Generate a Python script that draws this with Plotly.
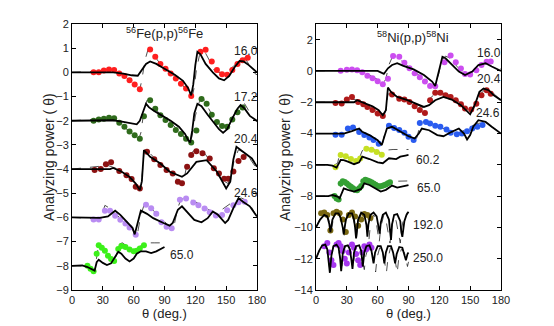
import plotly.graph_objects as go

# ---------------- Left panel: 56Fe(p,p)56Fe (values already include vertical offsets) ----------
fe16_x = [21,26,31,36,41,46,51,56,61,66,76,81,86,91,96,101,106,111,116,125,130,136,141,146,151,156,161,166,171]
fe16_y = [0,0,0.08,0.12,0.1,-0.05,-0.15,-0.33,-0.5,-0.7,0.95,0.65,0.35,0.15,-0.05,-0.25,-0.47,-0.67,-0.98,0.85,0.93,0.45,0.1,-0.08,-0.1,0.1,0.35,0.5,0.6]
fe16_sx = [0,40,50,58,64,68,72,76,82,90,100,108,113,116,118,120,122,125,130,137,143,148,153,158,163,167,172,180]
fe16_sy = [0,0,-0.05,-0.12,-0.14,0.1,0.35,0.45,0.35,0.15,-0.1,-0.35,-0.65,-0.95,-0.5,0.3,0.85,0.75,0.35,0.0,-0.25,-0.33,-0.15,0.2,0.47,0.45,0.3,0.0]
fe16_dx = [0,30,40,48,55,62,66,68,71,74,79,85,95,105,113,117,119,121,124,128,133,138,143,150,157,163,168,173,178,180]
fe16_dy = [0,0.05,0.1,0,-0.3,-0.55,-0.7,-0.3,0.5,0.95,0.75,0.4,0.05,-0.4,-0.8,-1.0,-0.6,0.1,0.7,0.95,0.55,0.1,0.0,0.0,0.25,0.5,0.6,0.3,-0.05,-0.1]

fe172_x = [21,26,31,36,41,46,51,56,61,66,70,76,81,86,91,96,101,106,111,116,121,126,131,136,141,146,151,156,161,166]
fe172_y = [-2,-1.95,-1.92,-1.88,-1.9,-2.08,-2.25,-2.45,-2.6,-2.75,-1.82,-1.15,-1.5,-1.77,-1.97,-2.18,-2.38,-2.55,-2.75,-2.9,-2.4,-1.1,-1.3,-1.75,-2.05,-2.22,-2.25,-1.95,-1.65,-1.45]
fe172_sx = [0,40,50,58,63,66,69,72,75,80,88,96,104,110,113,115,117,119,122,126,132,138,143,147,151,156,161,164,168,173,180]
fe172_sy = [-2,-1.98,-2.05,-2.12,-2.15,-2.0,-1.65,-1.3,-1.45,-1.6,-1.8,-2.0,-2.25,-2.55,-2.8,-2.9,-2.4,-1.7,-1.3,-1.4,-1.75,-2.1,-2.35,-2.5,-2.35,-1.9,-1.5,-1.35,-1.5,-1.8,-2.0]
fe172_dx = [0,35,42,50,58,65,67,70,73,78,85,95,105,112,115,117,120,124,128,133,138,145,150,157,163,168,172,177,180]
fe172_dy = [-2,-1.92,-1.95,-2.25,-2.5,-2.75,-2.5,-1.6,-1.15,-1.35,-1.7,-2.05,-2.45,-2.85,-2.95,-2.6,-1.8,-1.2,-1.1,-1.5,-1.9,-2.2,-2.2,-1.8,-1.45,-1.3,-1.6,-1.95,-2.05]

fe204_x = [22,28,33,38,46,53,58,62,66,73,80,86,92,98,103,107,112,116,121,127,134,138,143,148,152,157,162,167]
fe204_y = [-4.04,-4.0,-3.8,-3.72,-4.08,-4.25,-4.41,-4.73,-4.8,-3.28,-3.59,-3.83,-4.04,-4.18,-4.52,-4.59,-3.9,-3.42,-3.26,-3.35,-3.56,-3.97,-4.18,-4.4,-4.4,-4.1,-3.67,-3.5]
fe204_sx = [0,37,40,48,56,62,66,68,70,72,76,86,95,107,112,121,131,141,147,150,154,157,160,166,175,180]
fe204_sy = [-4,-4.0,-3.95,-4.1,-4.32,-4.6,-4.87,-4.5,-3.21,-3.3,-3.49,-3.77,-4.11,-4.32,-4.18,-3.7,-3.63,-4.11,-4.6,-4.8,-4.52,-3.6,-3.08,-3.28,-3.56,-3.9]
fe204_dx = [0,35,45,55,63,66,68,70,72,78,88,98,105,108,110,113,118,123,130,137,143,148,152,155,158,162,167,172,178,180]
fe204_dy = [-4,-3.85,-4.0,-4.35,-4.7,-4.85,-4.4,-3.3,-3.15,-3.45,-3.85,-4.2,-4.55,-4.6,-4.2,-3.6,-3.25,-3.2,-3.4,-3.85,-4.25,-4.5,-4.6,-4.2,-3.6,-3.2,-3.3,-3.5,-3.85,-4.0]

fe246_x = [21,26,32,37,42,47,52,56,62,72,77,82,87,92,97,105,111,118,123,129,134,140,146,151,157,162,168]
fe246_y = [-6.08,-6.08,-5.72,-5.72,-5.93,-6.1,-6.25,-6.42,-6.72,-5.47,-5.62,-5.85,-6.2,-6.38,-6.45,-5.27,-5.22,-5.38,-5.5,-5.63,-5.78,-5.92,-5.9,-5.7,-5.5,-5.37,-5.35]
fe246_sx = [0,17,21,27,35,42,47,53,59,61,64,67,73,79,89,95,98,103,107,113,119,126,132,137,142,149,152,157,162,166,173,180]
fe246_sy = [-6,-6.0,-6.0,-6.02,-5.96,-5.72,-5.89,-6.17,-6.44,-6.7,-6.2,-5.72,-5.85,-6.03,-6.23,-6.34,-6.23,-5.68,-5.54,-5.82,-6.1,-6.2,-6.03,-5.75,-5.89,-6.23,-6.1,-5.61,-5.2,-5.34,-5.54,-5.96]
fe246_dx = [0,25,29,32,36,42,50,58,62,64,67,70,74,80,88,95,98,100,103,106,112,120,128,135,140,145,150,155,160,165,170,175,180]
fe246_dy = [-6,-6.05,-5.9,-5.5,-5.6,-5.85,-6.15,-6.45,-6.75,-6.6,-5.9,-5.5,-5.5,-5.75,-6.1,-6.4,-6.5,-6.2,-5.6,-5.25,-5.2,-5.35,-5.55,-5.75,-5.85,-5.7,-5.55,-5.4,-5.25,-5.2,-5.3,-5.6,-6.0]

fe65_x = [15,18,21,24,26,29,32,35,38,41,45,48,52,56,60,63,66,70]
fe65_y = [-8.0,-8.12,-8.22,-7.5,-7.15,-7.25,-7.38,-7.58,-7.72,-7.8,-7.3,-7.18,-7.22,-7.33,-7.4,-7.38,-7.28,-7.15]
fe65_sx = [0,10,15,20,22,24,26,30,34,38,42,45,48,52,56,60,63,67,72,77,82,86,90]
fe65_sy = [-8,-7.98,-8.05,-8.15,-8.2,-7.85,-7.75,-7.88,-7.97,-7.9,-7.6,-7.42,-7.5,-7.7,-7.82,-7.7,-7.5,-7.4,-7.4,-7.47,-7.4,-7.3,-7.22]
fe65_dx = [0,15,22,24,26,30,36,40,43,46,49,54,58,62,66,70,75,80,85,90]
fe65_dy = [-8,-8.0,-8.2,-7.6,-7.1,-7.3,-7.6,-7.75,-7.6,-7.1,-7.05,-7.2,-7.35,-7.35,-7.2,-7.1,-7.05,-7.05,-7.05,-7.05]

# ---------------- Right panel: 58Ni(p,p)58Ni ----------
ni16_x = [24,30,35,40,45,50,55,60,65,70,75,81,86,91,96,101,106,111,116,125,131,136,141,145,150,156,161,166,170]
ni16_y = [0.02,0.08,0.1,0.05,-0.08,-0.3,-0.47,-0.66,-0.85,-0.5,0.95,0.9,0.53,0.17,-0.15,-0.4,-0.68,-0.96,-0.98,0.55,0.98,0.55,0.15,-0.2,-0.22,0.05,0.38,0.58,0.6]
ni16_sx = [0,60,66,70,74,79,85,95,105,113,116,119,123,126,131,139,145,152,158,165,171,180]
ni16_sy = [0,0,-0.19,0.17,0.38,0.49,0.32,0.1,-0.26,-0.68,-0.96,-0.15,0.91,0.81,0.49,-0.04,-0.26,-0.04,0.38,0.49,0.28,0]
ni16_dx = [0,40,50,60,66,68,71,74,78,84,92,100,108,114,117,119,122,126,131,137,143,148,153,158,164,169,174,180]
ni16_dy = [0,0.05,-0.2,-0.55,-0.75,-0.5,0.4,0.85,0.9,0.6,0.15,-0.3,-0.7,-0.95,-1.0,-0.3,0.6,0.95,0.8,0.3,-0.1,-0.2,-0.05,0.25,0.5,0.6,0.4,0.1]

ni204_x = [19,25,30,35,41,46,50,55,60,65,74,81,86,91,96,101,106,111,116,121,126,131,136,141,145,151,156,161,166,170]
ni204_y = [-2.05,-2.08,-1.83,-1.66,-1.98,-2.13,-2.3,-2.5,-2.72,-2.88,-1.5,-1.77,-1.83,-1.98,-2.25,-2.5,-2.68,-1.87,-1.4,-1.4,-1.55,-1.66,-1.87,-2.13,-2.4,-2.47,-2.09,-1.55,-1.23,-1.45]
ni204_sx = [0,37,40,47,55,61,65,68,70,73,79,89,98,105,110,116,124,132,141,147,150,155,159,163,168,173,180]
ni204_sy = [-2,-2.0,-1.87,-2.04,-2.26,-2.51,-2.83,-2.51,-1.06,-1.34,-1.66,-1.87,-2.09,-2.3,-2.19,-1.87,-1.66,-1.83,-2.19,-2.62,-2.77,-2.09,-1.34,-1.13,-1.23,-1.55,-1.87]
ni204_dx = [0,25,33,40,50,60,66,68,70,73,80,90,100,106,108,111,116,122,130,138,145,150,153,156,160,164,169,174,180]
ni204_dy = [-2,-2.0,-1.8,-1.85,-2.2,-2.6,-2.9,-2.5,-1.5,-1.35,-1.6,-1.9,-2.2,-2.4,-2.3,-1.75,-1.45,-1.4,-1.55,-1.9,-2.3,-2.6,-2.5,-2.0,-1.5,-1.2,-1.25,-1.5,-1.9]

ni246_x = [19,25,31,36,42,47,52,56,61,71,76,81,86,90,95,101,107,111,116,121,127,131,137,142,147,152,157,162]
ni246_y = [-4.08,-4.08,-3.68,-3.62,-3.9,-4.1,-4.25,-4.42,-4.65,-3.5,-3.65,-3.78,-3.95,-4.2,-4.42,-3.32,-3.26,-3.36,-3.5,-3.57,-3.75,-3.95,-4.05,-4.0,-3.85,-3.68,-3.57,-3.45]
ni246_sx = [0,27,35,42,45,52,60,64,67,69,74,82,90,96,100,103,110,118,124,132,139,144,147,150,153,158,165,171,180]
ni246_sy = [-4,-4.0,-3.85,-3.68,-3.89,-4.1,-4.43,-4.74,-4.1,-3.68,-3.57,-3.89,-4.17,-4.32,-4.0,-3.68,-3.79,-4.1,-4.17,-3.89,-3.68,-4.0,-4.38,-4.1,-3.57,-3.15,-3.26,-3.57,-4.0]
ni246_dx = [0,25,32,38,45,52,58,63,65,67,70,75,82,90,96,98,101,104,110,118,125,132,138,143,148,153,158,163,168,174,180]
ni246_dy = [-4,-4.0,-3.7,-3.65,-3.9,-4.2,-4.45,-4.7,-4.6,-3.9,-3.45,-3.55,-3.8,-4.2,-4.45,-4.3,-3.5,-3.25,-3.3,-3.5,-3.7,-3.9,-4.0,-3.85,-3.6,-3.45,-3.35,-3.3,-3.45,-3.7,-4.0]

ni602_x = [19,24,29,34,39,43,49,54,59,64]
ni602_y = [-6.15,-5.38,-5.45,-5.62,-5.75,-5.6,-4.97,-5.03,-5.18,-5.35]
ni602_sx = [0,11,16,20,24,27,31,37,42,45,52,60,65,71,78,82,87,90]
ni602_sy = [-6,-6.0,-6.05,-6.18,-5.69,-5.7,-5.8,-5.96,-5.84,-5.48,-5.63,-5.84,-5.9,-5.58,-5.63,-5.48,-5.41,-5.37]
ni602_dx = [0,18,21,23,26,32,38,42,45,48,55,62,66,70,75,80,85,90]
ni602_dy = [-6,-6.0,-5.9,-5.3,-5.3,-5.55,-5.72,-5.6,-5.1,-4.95,-5.0,-5.2,-5.2,-5.05,-5.02,-5.02,-5.02,-5.02]

ni65_x = [18,20,22,24,26,28,30,32,34,36,38,40,42,44,46,48,50,52,54,56,58,60,62,64,66,68,70,72]
ni65_y = [-8.0,-8.15,-8.22,-7.2,-7.05,-7.1,-7.2,-7.3,-7.4,-7.5,-7.6,-7.62,-7.5,-7.35,-7.05,-6.95,-7.0,-7.05,-7.12,-7.2,-7.28,-7.35,-7.38,-7.35,-7.3,-7.25,-7.18,-7.12]
ni65_sx = [0,12,16,21,23,27,31,37,44,47,52,58,63,68,74,79,84,90]
ni65_sy = [-8,-8.0,-7.93,-8.03,-8.14,-7.5,-7.6,-7.71,-7.54,-7.18,-7.29,-7.54,-7.71,-7.6,-7.33,-7.46,-7.39,-7.29]
ni65_dx = [0,18,22,24,26,30,36,40,43,46,50,58,64,68,72,76,82,90]
ni65_dy = [-8,-8.0,-8.2,-7.4,-7.05,-7.2,-7.5,-7.6,-7.45,-7.0,-6.95,-7.2,-7.35,-7.25,-7.1,-7.05,-7.03,-7.03]

ni192_x = [5,8,11,14,17,20,23,26,29,32,35,38,41,44,47,50,53]
ni192_y = [-9.1,-9.05,-9.2,-10.2,-9.1,-9.0,-9.1,-9.5,-10.3,-9.2,-9.05,-9.3,-9.9,-9.5,-9.15,-9.2,-9.4]
ni192_sx = [0,4,8,11,13,14,16,19,22,24,26,27,29,32,35,37,38,39,41,44,47,49,50,51,53,56,59,61,62,63,65,68,71,72,73,74,76,79,82,83,84,86,88,90]
ni192_sy = [-10.0,-9.5,-9.2,-9.3,-9.8,-10.3,-9.5,-9.1,-9.1,-9.4,-10.0,-10.45,-9.5,-9.1,-9.1,-9.5,-10.0,-10.7,-9.5,-9.05,-9.2,-9.8,-10.6,-9.8,-9.2,-9.05,-9.3,-9.9,-10.4,-9.7,-9.2,-9.05,-9.5,-10.2,-10.8,-9.8,-9.2,-9.15,-9.6,-10.3,-10.6,-9.6,-9.2,-9.0]
ni192_dx = [0,5,9,12,15,17,20,23,26,27.5,29,32,35,38,39.5,41,44,47,50,51.5,53,56,58,60,61.5,63,66,68,70.5,72,73.5,76,78,80.5,82,83.5,86,88,90]
ni192_dy = [-10.0,-9.3,-9.1,-9.4,-10.2,-9.4,-9.05,-9.2,-9.8,-10.5,-9.6,-9.1,-9.2,-9.9,-10.6,-9.7,-9.15,-9.3,-10.1,-10.8,-9.8,-9.2,-9.4,-10.2,-10.95,-10.0,-9.2,-9.5,-10.4,-11.0,-10.0,-9.2,-9.6,-10.5,-11.0,-10.0,-9.2,-9.1,-9.05]

ni250_x = [8,11,13,15,17,20,22,24,26,28,30,32,35,37,39,41,43,45,47,49,52,54]
ni250_y = [-11.2,-11.0,-11.6,-12.1,-12.4,-11.1,-11.0,-11.2,-11.5,-12.0,-12.3,-11.6,-11.1,-11.3,-11.7,-12.1,-12.4,-11.6,-11.2,-11.4,-11.1,-11.3]
ni250_sx = [0,3,6,9,11,12.5,13.5,15,17,20,22,23.5,24.5,26,28,31,33,34.5,35.5,37,39,42,44,45.5,47,49,52,54,56,57.5,60,63,65,66.5,68,70,73,75,77,78.5,81,84,86,87.5,89,90]
ni250_sy = [-12.0,-11.5,-11.15,-11.1,-11.4,-12.2,-12.9,-11.8,-11.2,-11.1,-11.3,-12.0,-12.8,-11.7,-11.2,-11.15,-11.4,-12.1,-12.65,-11.6,-11.2,-11.15,-11.5,-12.5,-11.6,-11.2,-11.15,-11.5,-12.3,-11.6,-11.2,-11.2,-11.6,-12.3,-11.6,-11.2,-11.2,-11.6,-12.3,-11.7,-11.25,-11.3,-11.7,-12.1,-11.7,-11.6]
ni250_dx = [0,4,8,11,13,14.5,17,21,23.5,25,26.5,29,32,34.5,36,37.5,40,43,45.5,47,48.5,51,54,56.5,58,59.5,62,65,67,68.5,70,72.5,75.5,77.5,79,80.5,83,86,88,89,90]
ni250_dy = [-12.0,-11.4,-11.1,-11.4,-12.5,-11.8,-11.15,-11.15,-11.9,-12.6,-11.7,-11.15,-11.2,-11.9,-12.6,-11.7,-11.2,-11.3,-12.2,-12.7,-11.8,-11.25,-11.4,-12.3,-12.85,-11.9,-11.3,-11.5,-12.4,-12.9,-12.0,-11.3,-11.5,-12.4,-12.9,-12.0,-11.4,-11.6,-12.2,-12.5,-12.2]

# energy labels (MeV) and their positions
fe_labels = ["16.0", "17.2", "20.4", "24.6", "65.0"]
fe_label_x = [169, 169, 169, 169, 107]
fe_label_y = [0.88, -1.0, -2.77, -4.97, -7.57]
ni_labels = ["16.0", "20.4", "24.6", "60.2", "65.0", "192.0", "250.0"]
ni_label_x = [168, 168, 167.5, 109, 109.5, 109, 109]
ni_label_y = [1.15, -0.53, -2.7, -5.69, -7.51, -9.87, -11.98]

xticks = [0, 30, 60, 90, 120, 150, 180]
fe_yticks = [2, 1, 0, -1, -2, -3, -4, -5, -6, -7, -8, -9]
ni_yticks = [2, 0, -2, -4, -6, -8, -10, -12, -14]

fe_sets = [
    (fe16_x, fe16_y, fe16_sx, fe16_sy, fe16_dx, fe16_dy, "#ff1f1f"),
    (fe172_x, fe172_y, fe172_sx, fe172_sy, fe172_dx, fe172_dy, "#2f6b1c"),
    (fe204_x, fe204_y, fe204_sx, fe204_sy, fe204_dx, fe204_dy, "#8c1212"),
    (fe246_x, fe246_y, fe246_sx, fe246_sy, fe246_dx, fe246_dy, "#b98cf2"),
    (fe65_x, fe65_y, fe65_sx, fe65_sy, fe65_dx, fe65_dy, "#3cf01a"),
]
ni_sets = [
    (ni16_x, ni16_y, ni16_sx, ni16_sy, ni16_dx, ni16_dy, "#cc4ef0"),
    (ni204_x, ni204_y, ni204_sx, ni204_sy, ni204_dx, ni204_dy, "#b01a1a"),
    (ni246_x, ni246_y, ni246_sx, ni246_sy, ni246_dx, ni246_dy, "#2a5cf0"),
    (ni602_x, ni602_y, ni602_sx, ni602_sy, ni602_dx, ni602_dy, "#c6e024"),
    (ni65_x, ni65_y, ni65_sx, ni65_sy, ni65_dx, ni65_dy, "#34a034"),
    (ni192_x, ni192_y, ni192_sx, ni192_sy, ni192_dx, ni192_dy, "#7a6812"),
    (ni250_x, ni250_y, ni250_sx, ni250_sy, ni250_dx, ni250_dy, "#a536ef"),
]

fig = go.Figure()

def add_set(s, xa, ya):
    x, y, sx, sy, dx, dy, col = s
    fig.add_trace(go.Scatter(x=dx, y=dy, mode="lines", xaxis=xa, yaxis=ya,
                             line=dict(color="#222222", width=0.8, dash="dash")))
    fig.add_trace(go.Scatter(x=x, y=y, mode="markers", xaxis=xa, yaxis=ya,
                             marker=dict(color=col, size=6, line=dict(width=0))))
    fig.add_trace(go.Scatter(x=sx, y=sy, mode="lines", xaxis=xa, yaxis=ya,
                             line=dict(color="black", width=1.8)))

for s in fe_sets:
    add_set(s, "x", "y")
for s in ni_sets:
    add_set(s, "x2", "y2")

font = dict(family="Liberation Sans, Arial, sans-serif", color="#222222")
ax_common = dict(showgrid=False, zeroline=False, showline=True, linecolor="black", linewidth=1,
                 mirror="allticks", ticks="inside", ticklen=4, tickcolor="black", automargin=False,
                 tickfont=dict(size=11, **font))

# the page shows the figure with an 8 px offset, so all pixel positions are shifted back by 8 px
W, H, OFF = 554, 326, 8
def px(xp):
    return (xp - OFF) / W
def py(yp):
    return 1 - (yp - OFF) / H

ydom = [py(290), py(24)]
fig.update_layout(
    template="none",
    width=W, height=H, margin=dict(l=0, r=0, t=0, b=0, pad=0),
    paper_bgcolor="white", plot_bgcolor="white", showlegend=False,
    xaxis=dict(domain=[px(72), px(257)], range=[0, 180], tickvals=xticks, anchor="y", **ax_common),
    yaxis=dict(domain=ydom, range=[-9, 2], tickvals=fe_yticks, anchor="x", **ax_common),
    xaxis2=dict(domain=[px(316), px(501)], range=[0, 180], tickvals=xticks, anchor="y2", **ax_common),
    yaxis2=dict(domain=ydom, range=[-14, 3], tickvals=ni_yticks, anchor="x2", **ax_common),
)

for t, x, y in zip(fe_labels, fe_label_x, fe_label_y):
    fig.add_annotation(x=x, y=y, xref="x", yref="y", text=t, showarrow=False,
                       xanchor="center", yanchor="middle", font=dict(size=12, **font))
for t, x, y in zip(ni_labels, ni_label_x, ni_label_y):
    fig.add_annotation(x=x, y=y, xref="x2", yref="y2", text=t, showarrow=False,
                       xanchor="center", yanchor="middle", font=dict(size=12, **font))

fig.add_annotation(x=90, y=1.62, xref="x", yref="y", text="<sup>56</sup>Fe(p,p)<sup>56</sup>Fe",
                   showarrow=False, xanchor="center", yanchor="middle", font=dict(size=13, **font))
fig.add_annotation(x=94, y=2.2, xref="x2", yref="y2", text="<sup>58</sup>Ni(p,p)<sup>58</sup>Ni",
                   showarrow=False, xanchor="center", yanchor="middle", font=dict(size=13, **font))

# axis titles
for xc in [164.5, 408.5]:
    fig.add_annotation(x=px(xc), y=py(313.5), xref="paper", yref="paper", text="θ (deg.)",
                       xanchor="center", yanchor="middle", showarrow=False, borderpad=0,
                       font=dict(size=13, **font))
for xc in [49, 285]:
    fig.add_annotation(x=px(xc), y=py(157), xref="paper", yref="paper", text="Analyzing power ( θ)",
                       xanchor="center", yanchor="middle", textangle=-90, showarrow=False,
                       font=dict(size=14, **font))

fig.write_html("out.html")
